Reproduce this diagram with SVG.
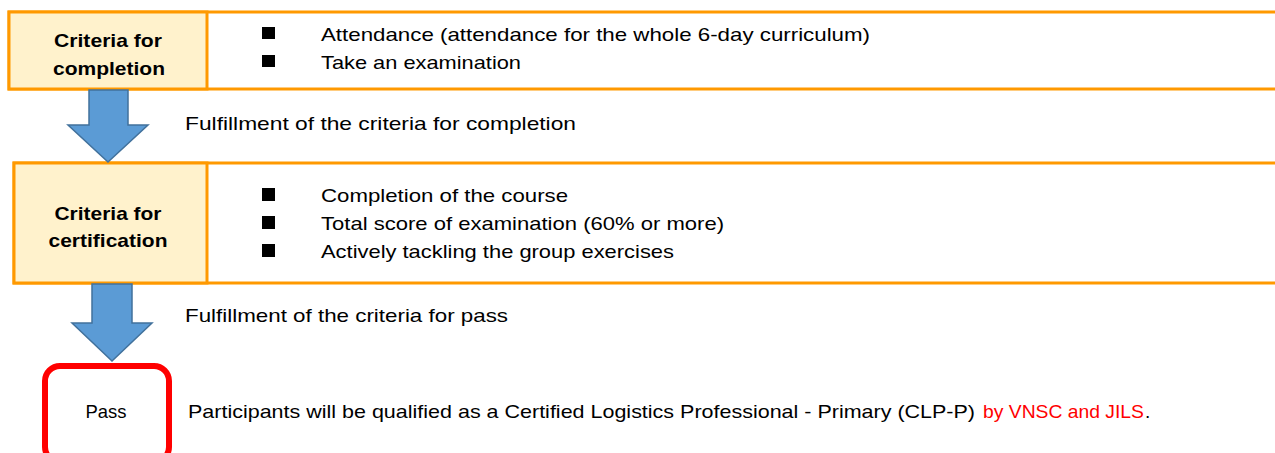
<svg xmlns="http://www.w3.org/2000/svg" width="1275" height="453" viewBox="0 0 1275 453">
<style>
.t{font-family:"Liberation Sans",Arial,sans-serif;font-size:19px;fill:#000}
.b{font-weight:bold;font-size:19px;text-anchor:middle}
.box{fill:#fff;stroke:#FF9900;stroke-width:3}
.lbl{fill:#FFF2CC;stroke:#FF9900;stroke-width:3}
.arrow{fill:#5B9BD5;stroke:#41719C;stroke-width:1.5}
.red{fill:#FF0000}
</style>
<rect width="1275" height="453" fill="#fff"/>
<g id="completion">
<rect class="box" x="9" y="12" width="1280" height="77"/>
<rect class="lbl" x="9" y="12" width="198" height="77"/>
<text class="t b" x="108" y="47" textLength="108" lengthAdjust="spacingAndGlyphs">Criteria for</text>
<text class="t b" x="109" y="75" textLength="112" lengthAdjust="spacingAndGlyphs">completion</text>
<rect x="262" y="27" width="13" height="12"/>
<rect x="262" y="55" width="13" height="12"/>
<text class="t" x="321" y="41" textLength="549" lengthAdjust="spacingAndGlyphs">Attendance (attendance for the whole 6-day curriculum)</text>
<text class="t" x="321" y="69" textLength="200" lengthAdjust="spacingAndGlyphs">Take an examination</text>
</g>
<g id="certification">
<rect class="box" x="14" y="163" width="1275" height="120"/>
<rect class="lbl" x="14" y="163" width="193" height="120"/>
<text class="t b" x="108" y="220" textLength="107" lengthAdjust="spacingAndGlyphs">Criteria for</text>
<text class="t b" x="108" y="247" textLength="119" lengthAdjust="spacingAndGlyphs">certification</text>
<rect x="262" y="188" width="13" height="13"/>
<rect x="262" y="216" width="13" height="13"/>
<rect x="262" y="244" width="13" height="13"/>
<text class="t" x="321" y="202" textLength="247" lengthAdjust="spacingAndGlyphs">Completion of the course</text>
<text class="t" x="321" y="230" textLength="403" lengthAdjust="spacingAndGlyphs">Total score of examination (60% or more)</text>
<text class="t" x="321" y="258" textLength="353" lengthAdjust="spacingAndGlyphs">Actively tackling the group exercises</text>
</g>
<g id="pass">
<rect x="45" y="366" width="124" height="96" rx="15" fill="#fff" stroke="#FF0000" stroke-width="6"/>
<text class="t" x="106" y="418" text-anchor="middle" textLength="41" lengthAdjust="spacingAndGlyphs">Pass</text>
<text class="t" x="188" y="418"><tspan textLength="787" lengthAdjust="spacingAndGlyphs">Participants will be qualified as a Certified Logistics Professional - Primary (CLP-P)</tspan><tspan class="red" x="983" textLength="161" lengthAdjust="spacingAndGlyphs">by VNSC and JILS</tspan><tspan x="1145">.</tspan></text>
</g>
<g id="connectors">
<polygon class="arrow" points="89,90 128,90 128,125 148,125 108,162 68,125 89,125"/>
<polygon class="arrow" points="92,284 132,284 132,323 152,323 112,361 72,323 92,323"/>
<text class="t" x="185" y="130" textLength="391" lengthAdjust="spacingAndGlyphs">Fulfillment of the criteria for completion</text>
<text class="t" x="185" y="322" textLength="323" lengthAdjust="spacingAndGlyphs">Fulfillment of the criteria for pass</text>
</g>
</svg>
